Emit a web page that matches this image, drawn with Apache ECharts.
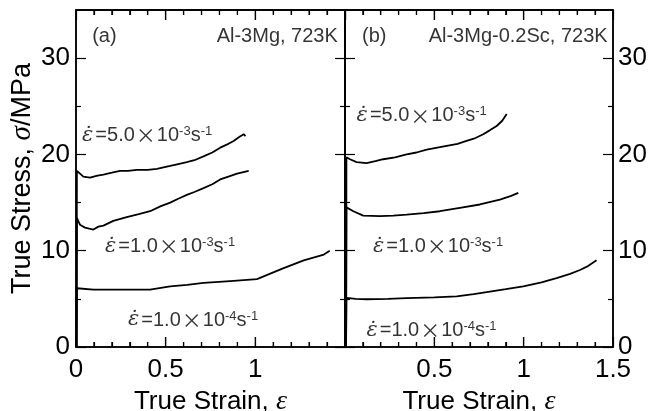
<!DOCTYPE html>
<html>
<head>
<meta charset="utf-8">
<script src="https://cdn.jsdelivr.net/npm/echarts@6/dist/echarts.min.js"></script>
<style>
  html, body { margin: 0; padding: 0; background: #fff; }
  #chart { width: 660px; height: 411px; }
</style>
</head>
<body>
<div id="chart"></div>
<script>
// (a) Al-3Mg, 723K  -- [true strain, true stress MPa]
var al3mg_5e3 = [[0.003, 0], [0.005, 18.3], [0.013, 18.2], [0.041, 17.7], [0.078, 17.6], [0.12, 17.8], [0.153, 17.9],
  [0.2, 18.1], [0.246, 18.3], [0.29, 18.3], [0.339, 18.4], [0.4, 18.4], [0.451, 18.5], [0.525, 18.8],
  [0.57, 19.0], [0.618, 19.2], [0.66, 19.4], [0.711, 19.8], [0.76, 20.2], [0.804, 20.7], [0.85, 21.1],
  [0.879, 21.4], [0.91, 21.8], [0.935, 22.1], [0.945, 21.9]];
var al3mg_1e3 = [[0.003, 0], [0.005, 13.4], [0.022, 12.7], [0.05, 12.4], [0.097, 12.2], [0.125, 12.5], [0.153, 12.6],
  [0.208, 13.1], [0.283, 13.5], [0.35, 13.8], [0.413, 14.1], [0.47, 14.6], [0.525, 15.0], [0.57, 15.4],
  [0.618, 15.8], [0.66, 16.1], [0.711, 16.5], [0.76, 16.9], [0.804, 17.4], [0.85, 17.7], [0.898, 18.0],
  [0.963, 18.3]];
var al3mg_1e4 = [[0.003, 0], [0.005, 6.1], [0.097, 5.95], [0.25, 5.95], [0.413, 5.95], [0.525, 6.3],
  [0.62, 6.45], [0.711, 6.65], [0.86, 6.85], [1.009, 7.05], [1.08, 7.6], [1.158, 8.2], [1.27, 9.0],
  [1.382, 9.6], [1.415, 10.0]];

// (b) Al-3Mg-0.2Sc, 723K
var sc_5e3 = [[0.006, 0], [0.008, 19.7], [0.01, 19.6], [0.028, 19.5], [0.065, 19.2], [0.121, 19.1],
  [0.17, 19.3], [0.214, 19.5], [0.28, 19.7], [0.345, 20.0], [0.4, 20.2], [0.457, 20.5], [0.569, 20.9],
  [0.63, 21.1], [0.68, 21.4], [0.73, 21.7], [0.774, 22.1], [0.81, 22.5], [0.849, 22.95], [0.88, 23.5],
  [0.905, 24.2]];
var sc_1e3 = [[0.006, 0], [0.008, 14.5], [0.01, 14.45], [0.047, 14.1], [0.102, 13.65], [0.196, 13.6],
  [0.27, 13.65], [0.345, 13.75], [0.44, 13.9], [0.531, 14.1], [0.643, 14.45], [0.755, 14.8],
  [0.867, 15.3], [0.93, 15.7], [0.97, 16.0]];
var sc_1e4 = [[0.006, 0], [0.008, 5.1], [0.06, 5.0], [0.121, 4.96], [0.24, 5.0], [0.345, 5.07],
  [0.5, 5.15], [0.625, 5.25], [0.72, 5.5], [0.811, 5.76], [0.9, 6.0], [0.998, 6.3], [1.1, 6.7],
  [1.184, 7.15], [1.26, 7.6], [1.315, 8.0], [1.36, 8.4], [1.408, 9.0]];

// labels: [strain, stress, mantissa, exponent]
var notesA = [[0.034, 22.0, '5.0', '-3'], [0.162, 10.4, '1.0', '-3'], [0.29, 2.8, '1.0', '-4']];
var notesB = [[0.065, 24.0, '5.0', '-3'], [0.157, 10.45, '1.0', '-3'], [0.12, 1.75, '1.0', '-4']];

// strain ticks (0.1 steps, long every 0.5) and stress ticks
var xTicks = [0, 0.1, 0.2, 0.3, 0.4, 0.5, 0.6, 0.7, 0.8, 0.9, 1, 1.1, 1.2, 1.3, 1.4, 1.5];
var xMajor = [0, 0.5, 1, 1.5];
var yMajor = [0, 10, 20, 30];
var yMinor = [5, 15, 25];
var X_MAX = 1.5, Y_MAX = 35;

var FONT = 'Liberation Sans, Arial, sans-serif';
var SERIF = 'Liberation Serif, Times New Roman, serif';

var chart = echarts.init(document.getElementById('chart'));

var nameRich = {
  n: { fontSize: 26, fontFamily: FONT, color: '#000' },
  g: { fontSize: 28, fontFamily: SERIF, fontStyle: 'italic', color: '#000' }
};

function xAxis(grid, pos, labels) {
  var ax = {
    type: 'value', gridIndex: grid, position: pos, min: 0, max: X_MAX, interval: 0.5,
    axisLine: { show: true, onZero: false, lineStyle: { color: '#000', width: 1.5 } },
    axisTick: { show: true, inside: true, length: 10, lineStyle: { color: '#000', width: 1.2 } },
    minorTick: { show: true, splitNumber: 5, length: 5, lineStyle: { color: '#000', width: 1.2 } },
    splitLine: { show: false },
    axisLabel: { show: true, formatter: function () { return ''; } }
  };
  if (labels) {
    ax.axisLabel = { show: true, customValues: labels, margin: 10, color: '#000', fontSize: 26, fontFamily: FONT };
    ax.name = '{n|True Strain, }{g|ε}';
    ax.nameLocation = 'middle';
    ax.nameGap = 32;
    ax.nameTextStyle = { rich: nameRich };
  }
  return ax;
}

function yAxis(grid, pos, ticks, len, line, labels) {
  return {
    type: 'value', gridIndex: grid, position: pos, min: 0, max: Y_MAX, interval: 5,
    axisLine: { show: line, onZero: false, lineStyle: { color: '#000', width: 1.5 } },
    axisTick: { show: true, inside: true, length: len, customValues: ticks, lineStyle: { color: '#000', width: 1.2 } },
    splitLine: { show: false },
    axisLabel: labels ? { show: true, customValues: yMajor, margin: 6, color: '#000', fontSize: 26, fontFamily: FONT } : { show: false }
  };
}

var yAxes = [
  yAxis(0, 'left', yMajor, 10, true, true),
  yAxis(0, 'left', yMinor, 5, false, false),
  yAxis(0, 'right', yMajor, 10, true, false),
  yAxis(0, 'right', yMinor, 5, false, false),
  yAxis(1, 'left', yMajor, 10, true, false),
  yAxis(1, 'left', yMinor, 5, false, false),
  yAxis(1, 'right', yMajor, 10, true, true),
  yAxis(1, 'right', yMinor, 5, false, false)
];
yAxes[0].name = '{n|True Stress, }{g|σ}{n|/MPa}';
yAxes[0].nameLocation = 'middle';
yAxes[0].nameGap = 36;
yAxes[0].nameTextStyle = {
  rich: {
    n: { fontSize: 27, fontFamily: FONT, color: '#000' },
    g: { fontSize: 29, fontFamily: SERIF, fontStyle: 'italic', color: '#000' }
  }
};
yAxes[6].axisLabel.margin = 5;

function curve(data, xi, yi) {
  return {
    type: 'line', xAxisIndex: xi, yAxisIndex: yi, data: data,
    showSymbol: false, symbol: 'none', silent: true,
    lineStyle: { color: '#000', width: 1.8 }
  };
}

var rateRich = {
  e: { fontSize: 21, fontFamily: 'DejaVu Serif', fontStyle: 'italic', color: '#000', padding: [0, 2, 0, 0] },
  t: { fontSize: 20, fontFamily: FONT, color: '#000' },
  x: { fontSize: 20, fontFamily: 'Noto Sans CJK JP', color: '#000', padding: [0, 1, 0, 1] },
  s: { fontSize: 13, fontFamily: FONT, color: '#000', verticalAlign: 'top', lineHeight: 13 }
};

function notes(list, xi, yi) {
  return {
    type: 'scatter', xAxisIndex: xi, yAxisIndex: yi, symbolSize: 0, silent: true,
    data: list.map(function (n) { return { value: [n[0], n[1]], m: n[2], p: n[3] }; }),
    label: {
      show: true, position: 'right', distance: 0,
      formatter: function (p) {
        return '{e|ε\u0307}{t|=' + p.data.m + '}{x|×}{t|10}{s|' + p.data.p + '}{t|s}{s|-1}';
      },
      rich: rateRich
    }
  };
}

function panelText(x, y, text, pos, xi, yi) {
  return {
    type: 'scatter', xAxisIndex: xi, yAxisIndex: yi, symbolSize: 0, silent: true,
    data: [[x, y]],
    label: { show: true, position: pos, distance: 0, formatter: text, color: '#000', fontSize: 20, fontFamily: FONT }
  };
}

chart.setOption({
  animation: false,
  grid: [
    { left: 76, top: 10, width: 269, height: 337, outerBoundsMode: 'none', show: true, borderColor: '#000', borderWidth: 1.5 },
    { left: 345, top: 10, width: 268, height: 337, outerBoundsMode: 'none', show: true, borderColor: '#000', borderWidth: 1.5 }
  ],
  xAxis: [
    xAxis(0, 'bottom', [0, 0.5, 1]),
    xAxis(0, 'top', null),
    xAxis(1, 'bottom', [0.5, 1, 1.5]),
    xAxis(1, 'top', null)
  ],
  yAxis: yAxes,
  series: [
    curve(al3mg_5e3, 0, 0),
    curve(al3mg_1e3, 0, 0),
    curve(al3mg_1e4, 0, 0),
    curve(sc_5e3, 2, 4),
    curve(sc_1e3, 2, 4),
    curve(sc_1e4, 2, 4),
    notes(notesA, 0, 0),
    notes(notesB, 2, 4),
    panelText(0.09, 32.2, '(a)', 'right', 0, 0),
    panelText(1.46, 32.2, 'Al-3Mg, 723K', 'left', 0, 0),
    panelText(0.095, 32.2, '(b)', 'right', 2, 4),
    panelText(1.47, 32.2, 'Al-3Mg-0.2Sc, 723K', 'left', 2, 4)
  ]
});

// frame: top border plus inward strain ticks on top and bottom, positioned through the grids' scales
var frameEls = [];
function seg(a, b, w) {
  frameEls.push({ type: 'line', z: 100, silent: true,
    shape: { x1: a[0], y1: a[1], x2: b[0], y2: b[1] },
    style: { stroke: '#000', lineWidth: w } });
}
[0, 1].forEach(function (g) {
  try {
    var tl = chart.convertToPixel({ gridIndex: g }, [0, Y_MAX]);
    var tr = chart.convertToPixel({ gridIndex: g }, [X_MAX, Y_MAX]);
    seg(tl, tr, 1.5);
    xTicks.forEach(function (v) {
      var len = xMajor.indexOf(v) >= 0 ? 10 : 5;
      var t = chart.convertToPixel({ gridIndex: g }, [v, Y_MAX]);
      var b = chart.convertToPixel({ gridIndex: g }, [v, 0]);
      seg(t, [t[0], t[1] + len], 1.2);
      seg(b, [b[0], b[1] - len], 1.2);
    });
  } catch (e) { /* leave the axes as they are */ }
});
chart.setOption({ graphic: { elements: frameEls } });
</script>
</body>
</html>
